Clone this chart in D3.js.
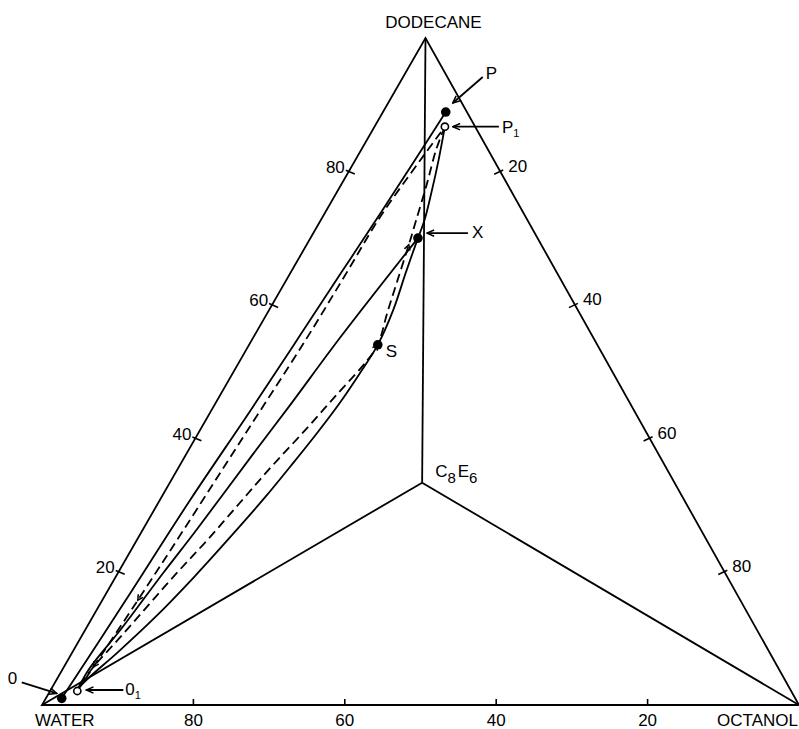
<!DOCTYPE html>
<html>
<head>
<meta charset="utf-8">
<script src="https://cdn.jsdelivr.net/npm/d3@7"></script>
<style>
  body { margin: 0; background: #fff; }
  svg { display: block; }
  text { font-family: "Liberation Sans", Arial, sans-serif; fill: #000; }
</style>
</head>
<body>
<script>
// Compositions are given as [dodecane %, octanol %]; water is the remainder.
// C8E6 sits at the centroid: the apex of the tetrahedron seen from above.
const cornerWater = [0, 0];
const cornerOctanol = [0, 100];
const cornerDodecane = [100, 0];
const cornerSurfactant = [33.33, 33.33];

const leftTicks = [20, 40, 60, 80];     // dodecane %
const rightTicks = [20, 40, 60, 80];    // octanol %
const bottomTicks = [80, 60, 40, 20];   // water %

// Marked compositions
const ptP = [88.9, 8.3];
const ptP1 = [86.7, 9.3];
const ptX = [70.0, 14.2];
const ptS = [54.0, 17.0];
const ptO = [1.0, 2.1];
const ptO1 = [2.1, 3.6];

// Solid path from O to P
const solidOP = [[1.0, 2.1], [15.7, 3.1], [30.7, 4.0], [44.5, 5.2], [55.2, 6.0],
  [64.9, 6.7], [74.2, 7.4], [82.0, 7.9], [88.9, 8.3]];
// Dashed path from O1 to P1
const dashedO1P1 = [[2.1, 3.6], [5.7, 3.9], [15.7, 4.7], [26.2, 5.4], [39.7, 6.2],
  [54.7, 7.1], [64.5, 7.4], [73.2, 7.6], [81.7, 8.6], [86.7, 9.3]];
// Solid path from X down to the water corner
const solidXO1 = [[70.0, 14.2], [55.2, 11.5], [45.0, 10.0], [37.5, 8.8], [26.2, 7.1],
  [19.9, 6.0], [11.5, 4.7], [5.5, 3.5], [2.6, 3.5]];
// Dashed path from P1 through S down to the water corner
const dashedP1S = [[86.7, 9.3], [83.2, 9.9], [78.0, 11.3], [72.7, 12.6], [69.0, 13.5],
  [63.7, 14.7], [58.9, 15.8], [54.0, 17.0], [51.7, 16.8], [46.3, 15.3], [40.9, 13.8],
  [35.7, 12.2], [30.4, 10.8], [24.7, 9.3], [19.5, 7.7], [10.2, 5.2], [5.7, 3.9], [3.0, 3.5]];
// Solid boundary P1 -> X, then X -> S -> water corner
const solidP1X = [[86.7, 9.3], [81.7, 11.0], [76.9, 12.5], [72.7, 13.7], [70.0, 14.2]];
const solidXS = [[70.0, 14.2], [64.9, 15.2], [59.2, 16.4], [54.0, 17.0], [49.9, 16.8],
  [45.4, 16.4], [40.9, 15.7], [36.3, 14.8], [31.2, 13.7], [25.5, 12.2], [19.3, 10.4],
  [13.2, 8.3], [7.9, 6.0], [4.5, 4.3], [2.8, 3.6]];

// Direction arrows drawn on the dashed paths (vertex indices)
const arrowsO1P1 = [2, 1];
const arrowsP1S = [4, 7];

const W = 799, H = 729;
const APEX = 0.5066;
const LW = 1.8;
const sx = d3.scaleLinear().domain([0, 100]).range([42, 799]);
const sy = d3.scaleLinear().domain([0, 100]).range([705, 38]);
const px = p => sx(p[1] + p[0] * APEX);
const py = p => sy(p[0]);

const svg = d3.select("body").append("svg").attr("width", W).attr("height", H);

const defs = svg.append("defs");
defs.append("marker").attr("id", "head")
  .attr("viewBox", "0 0 10 10").attr("refX", 9).attr("refY", 5)
  .attr("markerWidth", 9).attr("markerHeight", 9)
  .attr("markerUnits", "userSpaceOnUse").attr("orient", "auto")
  .append("path").attr("d", "M1,1.5 L9,5 L1,8.5")
  .attr("fill", "none").attr("stroke", "#000").attr("stroke-width", 1.7);

const frame = svg.append("g").attr("stroke", "#000").attr("stroke-width", LW).attr("fill", "none");
const lineStraight = d3.line().x(px).y(py);
frame.append("path").attr("d", lineStraight([cornerWater, cornerOctanol, cornerDodecane]) + "Z");
[cornerWater, cornerOctanol, cornerDodecane].forEach(c => {
  frame.append("path").attr("d", lineStraight([cornerSurfactant, c]));
});

// Ticks
const tickG = svg.append("g").attr("stroke", "#000").attr("stroke-width", 1.6);
leftTicks.forEach(t => {
  const p = [t, 0], x = px(p), y = py(p);
  tickG.append("line").attr("x1", x - 3).attr("y1", y - 1.2).attr("x2", x + 6).attr("y2", y + 2.6);
  svg.append("text").attr("x", x - 4).attr("y", y - 3).attr("text-anchor", "end")
    .attr("dominant-baseline", "middle").attr("font-size", 17).text(t);
});
rightTicks.forEach(t => {
  const p = [100 - t, t], x = px(p), y = py(p);
  tickG.append("line").attr("x1", x + 3).attr("y1", y - 1.4).attr("x2", x - 6).attr("y2", y + 2.8);
  svg.append("text").attr("x", x + 8).attr("y", y - 4).attr("text-anchor", "start")
    .attr("dominant-baseline", "middle").attr("font-size", 17).text(t);
});
bottomTicks.forEach(t => {
  const p = [0, 100 - t], x = px(p), y = py(p);
  tickG.append("line").attr("x1", x).attr("y1", y).attr("x2", x).attr("y2", y - 6);
  svg.append("text").attr("x", x).attr("y", 726).attr("text-anchor", "middle")
    .attr("font-size", 17).text(t);
});

// Corner labels
svg.append("text").attr("x", px(cornerDodecane) + 8).attr("y", 28)
  .attr("text-anchor", "middle").attr("font-size", 17).text("DODECANE");
svg.append("text").attr("x", px(cornerWater) - 7).attr("y", 726)
  .attr("text-anchor", "start").attr("font-size", 17).text("WATER");
svg.append("text").attr("x", px(cornerOctanol) - 1).attr("y", 726)
  .attr("text-anchor", "end").attr("font-size", 17).text("OCTANOL");
const lab = svg.append("text").attr("x", px(cornerSurfactant) + 13).attr("y", py(cornerSurfactant) - 6)
  .attr("font-size", 17);
lab.append("tspan").text("C");
lab.append("tspan").attr("font-size", 15).attr("dy", 6).text("8");
lab.append("tspan").attr("dy", -6).attr("dx", 2).text("E");
lab.append("tspan").attr("font-size", 15).attr("dy", 6).text("6");

// Curves
const smooth = d3.line().x(px).y(py).curve(d3.curveCatmullRom.alpha(0.5));
const curves = svg.append("g").attr("fill", "none").attr("stroke", "#000").attr("stroke-width", LW);
[solidOP, solidXO1, solidP1X, solidXS].forEach(c => curves.append("path").attr("d", smooth(c)));
[dashedO1P1, dashedP1S].forEach(c => curves.append("path").attr("d", smooth(c))
  .attr("stroke-dasharray", "9,5"));

function pathArrow(data, i) {
  const a = data[i + 1], b = data[i];
  const x0 = px(a), y0 = py(a), x1 = px(b), y1 = py(b);
  const ang = Math.atan2(y1 - y0, x1 - x0);
  const L = 6, s = 0.5;
  const w1 = [x1 - L * Math.cos(ang - s), y1 - L * Math.sin(ang - s)];
  const w2 = [x1 - L * Math.cos(ang + s), y1 - L * Math.sin(ang + s)];
  curves.append("path").attr("d", `M${w1}L${x1},${y1}L${w2}`).attr("stroke-width", 1.5);
}
arrowsO1P1.forEach(i => pathArrow(dashedO1P1, i));
arrowsP1S.forEach(i => pathArrow(dashedP1S, i));

// Marked points
[ptP, ptX, ptS, ptO].forEach(p => svg.append("circle").attr("cx", px(p)).attr("cy", py(p))
  .attr("r", 4.8).attr("fill", "#000"));
[ptP1, ptO1].forEach(p => svg.append("circle").attr("cx", px(p)).attr("cy", py(p))
  .attr("r", 3.6).attr("fill", "#fff").attr("stroke", "#000").attr("stroke-width", 1.6));

// Annotation arrows and labels (offsets in pixels from each point)
function note(p, tail, tip) {
  svg.append("line").attr("x1", px(p) + tail[0]).attr("y1", py(p) + tail[1])
    .attr("x2", px(p) + tip[0]).attr("y2", py(p) + tip[1])
    .attr("stroke", "#000").attr("stroke-width", LW).attr("marker-end", "url(#head)");
}
note(ptP, [37, -35], [7, -9]);
svg.append("text").attr("x", px(ptP) + 40).attr("y", py(ptP) - 33).attr("font-size", 17).text("P");
note(ptP1, [54, 0], [8, 0]);
const tP1 = svg.append("text").attr("x", px(ptP1) + 57).attr("y", py(ptP1) + 6).attr("font-size", 17);
tP1.append("tspan").text("P");
tP1.append("tspan").attr("font-size", 11).attr("dy", 4).text("1");
note(ptX, [50, -5], [9, -5]);
svg.append("text").attr("x", px(ptX) + 54).attr("y", py(ptX)).attr("font-size", 17).text("X");
svg.append("text").attr("x", px(ptS) + 8).attr("y", py(ptS) + 12).attr("font-size", 17).text("S");
note(ptO, [-40, -16], [-5, -5]);
svg.append("text").attr("x", px(ptO) - 54).attr("y", py(ptO) - 14).attr("font-size", 17).text("0");
note(ptO1, [46, -1], [9, -1]);
const tO1 = svg.append("text").attr("x", px(ptO1) + 48).attr("y", py(ptO1) + 4).attr("font-size", 17);
tO1.append("tspan").text("0");
tO1.append("tspan").attr("font-size", 11).attr("dy", 4).text("1");
</script>
</body>
</html>
